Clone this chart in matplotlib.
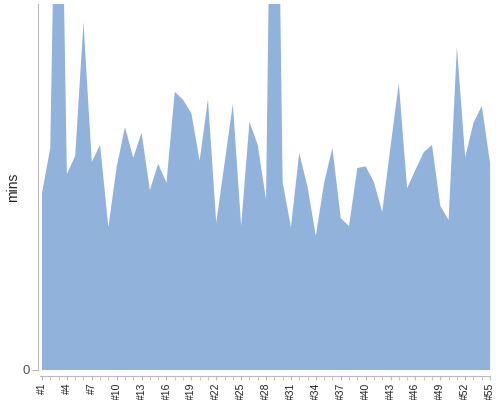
import matplotlib
matplotlib.use("Agg")
import matplotlib.pyplot as plt
import numpy as np

plt.rcParams['font.family'] = ['Liberation Sans', 'DejaVu Sans']

categories = ["#%d" % i for i in range(1, 56)]
mins = [29.0, 36.4, 114.8, 32.1, 35.1, 57.0, 34.1, 36.9, 23.4, 33.3,
        39.8, 34.8, 38.9, 29.5, 33.8, 30.7, 45.6, 44.3, 42.1, 34.3,
        44.4, 24.1, 33.9, 43.6, 23.6, 40.7, 36.9, 27.9, 133.6, 30.8,
        23.4, 35.6, 30.0, 22.0, 30.7, 36.4, 24.9, 23.6, 33.1, 33.4,
        30.8, 25.9, 36.6, 47.0, 29.8, 32.8, 35.7, 36.9, 26.9, 24.6,
        53.0, 34.9, 40.5, 43.3, 33.9]
y_max = 60

fig = plt.figure(figsize=(5, 4), dpi=100)
ax = fig.add_axes([0.076, 0.075, 0.905, 0.915])
x = np.arange(len(mins))
ax.fill_between(x, 0, mins, color='#90B2DB', linewidth=0)
ax.set_xlim(-0.48, len(mins) - 1 + 0.05)
ax.set_ylim(0, y_max)

for s in ['top', 'right']:
    ax.spines[s].set_visible(False)
ax.spines['left'].set_color('#bbbbbb')
ax.spines['bottom'].set_color('#bbbbbb')
ax.spines['bottom'].set_position(('outward', 4))
ax.spines['bottom'].set_bounds(-0.2, len(mins) - 1)

ax.set_xticks(x, minor=True)
ax.set_xticks(x[::3])
ax.set_xticklabels(categories[::3], rotation=90, fontsize=7.5, color='#222222')
ax.tick_params(axis='x', which='both', length=3, color='#bbbbbb', pad=2)
ax.set_yticks([0])
ax.set_yticklabels(['0'], fontsize=9.5, color='#555555')
ax.tick_params(axis='y', length=4, color='#bbbbbb', pad=2)
ax.set_ylabel('mins', fontsize=10, color='#222222')
ax.yaxis.label.set_va('center')
ax.yaxis.set_label_coords(-0.056, 0.5)

fig.savefig('out.png', dpi=100)
